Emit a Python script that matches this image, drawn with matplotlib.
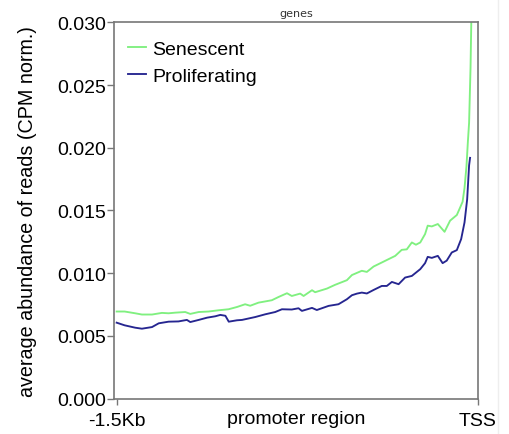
import matplotlib
matplotlib.use("Agg")
import matplotlib.pyplot as plt
from matplotlib.lines import Line2D

# promoter profile, position relative to TSS (bp)
sen_pos = [-1500, -1467, -1423, -1395, -1353, -1312, -1284, -1256, -1215, -1194,
           -1159, -1118, -1076, -1035, -1000, -966, -945, -910, -855, -827,
           -792, -772, -737, -723, -688, -675, -626, -592, -543, -522,
           -481, -460, -432, -398, -342, -315, -294, -273, -256, -238,
           -218, -207, -190, -165, -137, -114, -86, -72, -62, -54,
           -46, -40, -35, -29, -25]
senescent = [0.00694, 0.00694, 0.00680, 0.00670, 0.00670, 0.00683, 0.00680, 0.00685, 0.00690, 0.00675,
             0.00690, 0.00694, 0.00704, 0.00712, 0.00730, 0.00752, 0.00740, 0.00765, 0.00784, 0.00810,
             0.00840, 0.00818, 0.00837, 0.00818, 0.00864, 0.00848, 0.00877, 0.00907, 0.00944, 0.00985,
             0.01019, 0.01010, 0.01053, 0.01085, 0.01138, 0.01186, 0.01190, 0.01245, 0.01227, 0.01245,
             0.01312, 0.01379, 0.01373, 0.01392, 0.01330, 0.01419, 0.01464, 0.01525, 0.01570, 0.01680,
             0.01850, 0.02050, 0.02200, 0.02640, 0.03100]

pro_pos = [-1500, -1467, -1423, -1395, -1353, -1325, -1284, -1243, -1208, -1194,
           -1159, -1124, -1090, -1069, -1048, -1034, -1000, -979, -924, -882,
           -841, -813, -772, -744, -730, -688, -668, -619, -578, -543,
           -522, -501, -481, -460, -432, -398, -377, -356, -328, -301,
           -273, -238, -218, -207, -190, -165, -145, -128, -107, -86,
           -68, -54, -43, -35, -31]
proliferating = [0.00605, 0.00584, 0.00565, 0.00557, 0.00570, 0.00600, 0.00613, 0.00615, 0.00627, 0.00610,
                 0.00627, 0.00645, 0.00656, 0.00667, 0.00660, 0.00613, 0.00624, 0.00627, 0.00650, 0.00672,
                 0.00690, 0.00712, 0.00710, 0.00720, 0.00699, 0.00723, 0.00706, 0.00739, 0.00752, 0.00792,
                 0.00824, 0.00837, 0.00845, 0.00838, 0.00866, 0.00898, 0.00898, 0.00930, 0.00912, 0.00965,
                 0.00978, 0.01032, 0.01080, 0.01130, 0.01122, 0.01138, 0.01080, 0.01100, 0.01165, 0.01184,
                 0.01272, 0.01405, 0.01590, 0.01860, 0.01920]

xticks = [-1500, 0]
xtick_labels = ["-1.5Kb", "TSS"]
yticks = [0.000, 0.005, 0.010, 0.015, 0.020, 0.025, 0.030]

plt.rcParams["font.family"] = ["Liberation Sans", "DejaVu Sans"]

fig = plt.figure(figsize=(5.1, 4.35), dpi=100)
ax = fig.add_axes([0.2245, 0.0816, 0.7118, 0.8644])

ax.plot(sen_pos, senescent, color="#80f080", lw=1.35, label="Senescent")
ax.plot(pro_pos, proliferating, color="#262690", lw=1.35, label="Proliferating")

ax.set_xlim(-1509, 0)
ax.set_ylim(0, 0.030)
ax.set_xticks(xticks)
ax.set_xticklabels(xtick_labels)
ax.set_yticks(yticks)
ax.set_yticklabels(["%.3f" % v for v in yticks])
ax.tick_params(axis="both", labelsize=14, color="#777777", width=1.0)
ax.tick_params(axis="y", length=5, pad=1)
ax.tick_params(axis="x", length=4, pad=6)
for s in ax.spines.values():
    s.set_color("#777777")
    s.set_linewidth(1.2)

ax.set_title("genes", fontsize=8, color="#333333", pad=5,
             family=["DejaVu Sans"])
ax.set_xlabel("promoter region", fontsize=14)
ax.xaxis.set_label_coords(0.5, -0.031)
ax.set_ylabel("average abundance of reads (CPM norm.)", fontsize=14.2)
ax.yaxis.set_label_coords(-0.2135, 0.5)

ax.legend(loc="upper left", bbox_to_anchor=(0.037, 0.952), frameon=False,
          fontsize=14, borderpad=0, borderaxespad=0, handlelength=0.95,
          handletextpad=0.3, labelspacing=0.45)

# thin divider on the right side of the figure
fig.add_artist(Line2D([0.976, 0.976], [0, 1], transform=fig.transFigure,
                      color="#eeeeee", lw=1))

fig.savefig("out.png", dpi=100)
